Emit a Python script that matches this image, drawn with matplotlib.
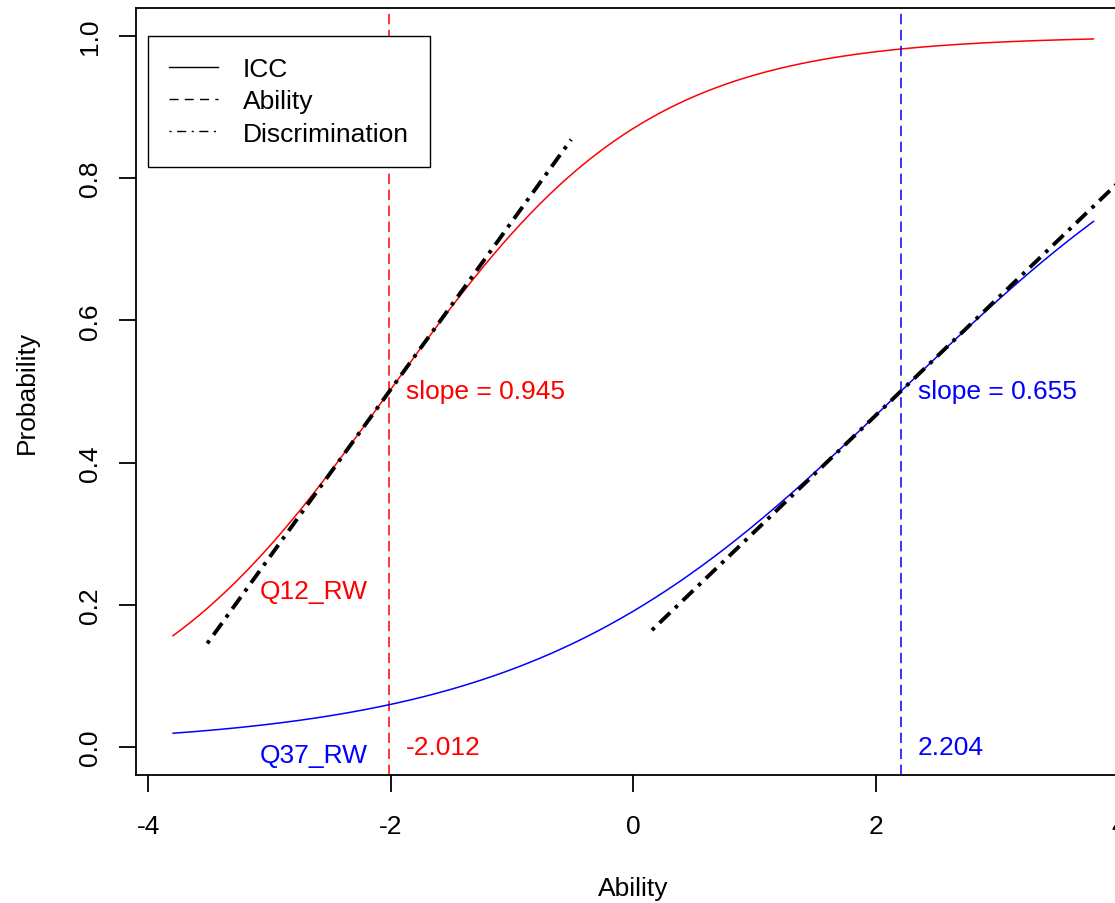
import numpy as np
import matplotlib
matplotlib.use("Agg")
import matplotlib.pyplot as plt
from matplotlib.lines import Line2D

# ---- data ----
items = ["Q12_RW", "Q37_RW"]
difficulty = [-2.012, 2.204]          # ability (b) parameters
discrimination = [0.945, 0.655]       # discrimination (a) parameters
item_colors = ["red", "blue"]
theta_range = [-3.8, 3.8]             # range of ability on which ICC drawn
tangent_halfspan = [1.5, 2.05]        # half-length (in ability) of tangent lines
item_label_y = [0.22, -0.011]
x_ticks = [-4, -2, 0, 2, 4]
y_ticks = [0.0, 0.2, 0.4, 0.6, 0.8, 1.0]
legend_labels = ["ICC", "Ability", "Discrimination"]

plt.rcParams["font.family"] = ["Liberation Sans", "DejaVu Sans"]
plt.rcParams["font.size"] = 19
plt.rcParams["lines.scale_dashes"] = False

W, H = 1115, 904
fig = plt.figure(figsize=(W / 100, H / 100), dpi=100)
ax_left, ax_right = 135.5, 1131.0
ax_top, ax_bottom = 8.6, 776.4
ax = fig.add_axes([ax_left / W, (H - ax_bottom) / H,
                   (ax_right - ax_left) / W, (ax_bottom - ax_top) / H])

xmin, xmax = theta_range
ext = 0.04 * (xmax - xmin)
ax.set_xlim(xmin - ext, xmax + ext)
ax.set_ylim(-0.04, 1.04)

theta = np.linspace(xmin, xmax, 400)
dotdash = (2.6, 5.0, 10.5, 5.0)
for name, b, a, col, hs, ly in zip(items, difficulty, discrimination,
                                   item_colors, tangent_halfspan, item_label_y):
    p = 1.0 / (1.0 + np.exp(-a * (theta - b)))
    ax.plot(theta, p, color=col, lw=1.1, solid_capstyle="butt")
    ax.axvline(b, color=col, lw=1.1, dashes=(7.5, 4.0))
    tx = np.array([b - hs, b + hs])
    ty = 0.5 + (a / 4.0) * (tx - b)
    ax.plot(tx, ty, color="black", lw=2.8, dashes=dotdash,
            dash_capstyle="butt")
    ax.text(b + 0.14, 0.5, f"slope = {a:.3f}", color=col,
            ha="left", va="center")
    ax.text(b + 0.14, 0.0, f"{b:.3f}", color=col, ha="left", va="center")
    ax.text(-2.19, ly, name, color=col, ha="right", va="center")

ax.set_xticks(x_ticks)
ax.set_xticklabels([str(t) for t in x_ticks])
ax.set_yticks(y_ticks)
ax.set_yticklabels([f"{t:.1f}" for t in y_ticks])
for s in ax.spines.values():
    s.set_linewidth(1.3)
ax.tick_params(axis="both", direction="out", length=12, width=1.3,
               labelsize=19, color="black")
ax.tick_params(axis="x", pad=16)
ax.tick_params(axis="y", pad=12, labelrotation=90)
for t in ax.get_yticklabels():
    t.set_va("center")

ax.set_xlabel("Ability", fontsize=19, va="center")
ax.set_ylabel("Probability", fontsize=19, va="center")
ax.xaxis.set_label_coords(0.5, -(889 - ax_bottom) / (ax_bottom - ax_top))
ax.yaxis.set_label_coords(-(ax_left - 27) / (ax_right - ax_left), 0.5)

handles = [Line2D([], [], color="black", lw=1.0),
           Line2D([], [], color="black", lw=1.0, dashes=(6.5, 4.5)),
           Line2D([], [], color="black", lw=1.0, dashes=(1.5, 4.0, 6.5, 4.0))]
leg = ax.legend(handles, legend_labels, loc="upper left",
                bbox_to_anchor=(-4.0, 1.0), bbox_transform=ax.transData,
                borderaxespad=0, frameon=True, fancybox=False,
                edgecolor="black", framealpha=1, borderpad=0.8,
                labelspacing=0.31, handlelength=1.85, handletextpad=0.95,
                fontsize=19)
leg.get_frame().set_linewidth(1.0)

fig.savefig("out.png", dpi=100)
